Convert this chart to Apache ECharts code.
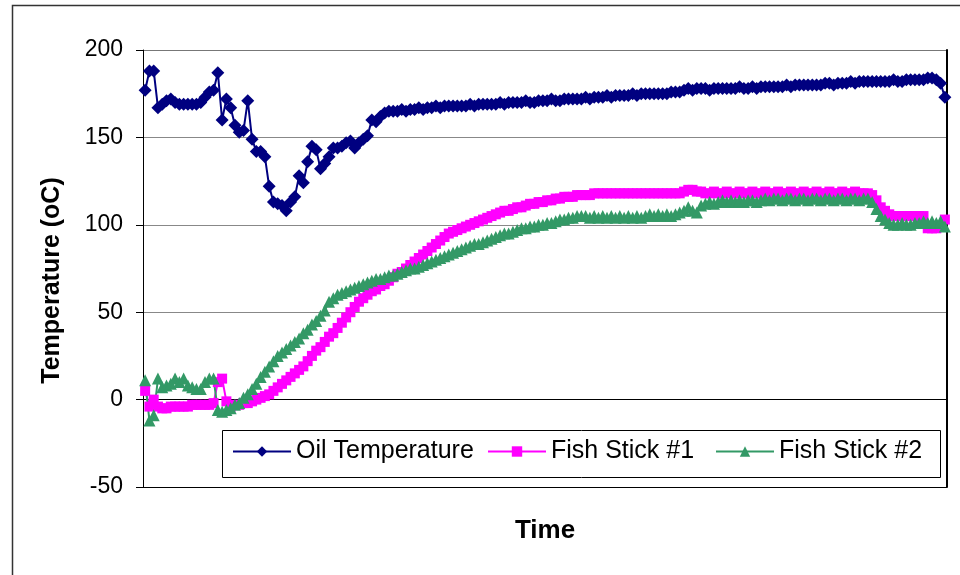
<!DOCTYPE html>
<html>
<head>
<meta charset="utf-8">
<script src="https://cdn.jsdelivr.net/npm/echarts@6/dist/echarts.min.js"></script>
<style>
  html, body { margin: 0; padding: 0; background: #fff; }
  #chart { width: 960px; height: 575px; }
</style>
</head>
<body>
<div id="chart"></div>
<script>
// readings (oC), one per sample
const oilTemp = [
  177, 188, 188, 167, 169, 171, 172, 170, 169, 169, 169, 169, 169, 170, 173, 176, 177, 187, 160, 172,
  167, 157, 153, 154, 171, 149, 142, 142, 139, 122, 113, 112, 111, 108, 113, 116, 128, 124, 136, 145,
  143, 132, 135, 139, 144, 144, 145, 147, 148, 144, 147, 149, 151, 160, 159, 162, 164, 165, 165, 165,
  166, 165, 166, 166, 167, 166, 167, 167, 168, 167, 168, 168, 168, 168, 168, 168, 169, 168, 169, 169,
  169, 169, 169, 170, 169, 170, 170, 170, 170, 171, 170, 170, 171, 171, 171, 172, 171, 171, 172, 172,
  172, 172, 172, 173, 172, 173, 173, 173, 174, 173, 174, 174, 174, 174, 175, 174, 175, 175, 175, 175,
  175, 175, 175, 176, 176, 176, 177, 178, 177, 178, 178, 178, 177, 178, 178, 178, 178, 178, 178, 179,
  178, 178, 179, 178, 179, 179, 179, 179, 179, 179, 180, 179, 180, 180, 180, 180, 180, 180, 180, 181,
  181, 180, 181, 181, 181, 182, 181, 182, 182, 182, 182, 182, 182, 182, 182, 183, 182, 182, 183, 183,
  183, 183, 183, 184, 184, 183, 181, 173
];
const fishStick1 = [
  5, -4, 0, -4, -5, -5, -4, -4, -4, -4, -4, -3, -3, -3, -3, -3, -2, 10, 12, -1,
  -4, -3, -3, -2, -2, -1, 0, 1, 2, 3, 5, 7, 9, 11, 13, 15, 17, 19, 22, 25,
  28, 30, 33, 36, 38, 41, 44, 47, 50, 53, 56, 58, 60, 62, 63, 65, 66, 68, 70, 72,
  73, 75, 77, 79, 81, 83, 85, 87, 89, 91, 93, 95, 96, 97, 98, 99, 100, 101, 102, 103,
  104, 105, 106, 107, 108, 108, 109, 110, 110, 111, 112, 112, 113, 113, 114, 114, 115, 115, 116, 116,
  116, 117, 117, 117, 117, 118, 118, 118, 118, 118, 118, 118, 118, 118, 118, 118, 118, 118, 118, 118,
  118, 118, 118, 118, 118, 118, 119, 120, 120, 119, 119, 118, 118, 119, 118, 118, 119, 118, 118, 119,
  118, 118, 119, 118, 118, 119, 118, 118, 119, 118, 118, 119, 118, 118, 119, 118, 118, 119, 118, 118,
  119, 118, 118, 119, 118, 118, 119, 118, 118, 118, 117, 114, 110, 108, 106, 105, 105, 105, 105, 105,
  105, 105, 105, 98, 98, 98, 99, 103
];
const fishStick2 = [
  11, -12, -9, 12, 7, 8, 9, 12, 10, 12, 8, 7, 6, 6, 10, 12, 12, -6, -7, -6,
  -5, -3, -2, 1, 3, 6, 9, 13, 16, 19, 22, 25, 27, 29, 31, 33, 35, 38, 40, 43,
  45, 48, 51, 56, 58, 60, 61, 62, 63, 64, 65, 66, 67, 68, 69, 69, 70, 71, 71, 72,
  73, 74, 75, 75, 76, 77, 78, 79, 80, 81, 82, 83, 84, 85, 86, 87, 88, 89, 89, 90,
  91, 92, 93, 94, 95, 95, 96, 97, 98, 98, 99, 99, 100, 100, 101, 101, 102, 103, 103, 104,
  104, 105, 105, 105, 104, 105, 104, 105, 104, 105, 104, 105, 104, 105, 104, 105, 104, 105, 106, 105,
  106, 105, 106, 105, 106, 107, 108, 110, 108, 107, 111, 112, 113, 112, 113, 114, 113, 114, 113, 114,
  113, 114, 114, 113, 114, 115, 114, 115, 115, 114, 115, 115, 114, 115, 115, 114, 115, 115, 114, 115,
  115, 114, 115, 115, 114, 115, 115, 114, 115, 115, 113, 109, 105, 103, 101, 100, 100, 101, 100, 100,
  101, 101, 102, 101, 102, 101, 102, 99
];
const samples = oilTemp.map((_, i) => i + 1);
const yTicks = { min: -50, max: 200, step: 50 };
const seriesNames = ['Oil Temperature', 'Fish Stick #1', 'Fish Stick #2'];

const chart = echarts.init(document.getElementById('chart'));
const font = '"Liberation Sans", Arial, sans-serif';

// one legend per entry so each sits where it does in the original box
const legendLeft = [232, 487, 715];
const legends = seriesNames.map((name, i) => ({
  data: [name],
  left: legendLeft[i],
  top: 439,
  z: 10,
  padding: 0,
  itemWidth: 58,
  itemHeight: 13,
  textStyle: { fontSize: 25, color: '#000', fontFamily: font }
}));

const option = {
  animation: false,
  backgroundColor: '#fff',
  textStyle: { fontFamily: font, color: '#000' },
  graphic: [
    {
      type: 'rect',
      left: 10,
      top: 3,
      shape: { width: 1000, height: 620 },
      style: { fill: 'none', stroke: '#333', lineWidth: 1.5 },
      silent: true
    },
    {
      type: 'rect',
      left: 222,
      top: 430,
      z: 3,
      shape: { width: 718, height: 47 },
      style: { fill: '#fff', stroke: '#000', lineWidth: 1 },
      silent: true
    }
  ],
  grid: {
    left: 143,
    right: 13,
    top: 50,
    bottom: 88,
    containLabel: false,
    outerBoundsMode: 'none'
  },
  legend: legends,
  xAxis: [
    {
      type: 'category',
      data: samples,
      boundaryGap: true,
      axisLine: { onZero: true, lineStyle: { color: '#000', width: 1 } },
      axisTick: { show: false },
      axisLabel: { show: false },
      splitLine: { show: false },
      name: 'Time',
      nameLocation: 'middle',
      nameGap: 31,
      nameTextStyle: { fontSize: 26, fontWeight: 'bold', color: '#000', fontFamily: font }
    }
  ],
  yAxis: [
    {
      type: 'value',
      min: yTicks.min,
      max: yTicks.max,
      interval: yTicks.step,
      axisLine: { show: true, lineStyle: { color: '#000', width: 1 } },
      axisTick: { show: true, inside: false, length: 7, lineStyle: { color: '#000' } },
      axisLabel: { fontSize: 23, color: '#000', margin: 20, fontFamily: font },
      splitLine: {
        show: true,
        lineStyle: { color: ['#000', '#000', '#888', '#888', '#888', '#777'], width: 1 }
      },
      name: 'Temperature (oC)',
      nameLocation: 'middle',
      nameGap: 78,
      nameTextStyle: {
        fontSize: 25, fontWeight: 'bold', color: '#000', fontFamily: font,
        padding: [0, 24, 0, 0]
      }
    },
    {
      type: 'value',
      position: 'right',
      min: yTicks.min,
      max: yTicks.max,
      interval: yTicks.step,
      axisLine: { show: true, lineStyle: { color: '#000', width: 2 } },
      axisTick: { show: false },
      axisLabel: { show: false },
      splitLine: { show: false }
    }
  ],
  series: [
    {
      name: 'Oil Temperature',
      type: 'line',
      data: oilTemp,
      symbol: 'diamond',
      symbolSize: 13,
      showAllSymbol: true,
      lineStyle: { color: '#000080', width: 2 },
      itemStyle: { color: '#000080' }
    },
    {
      name: 'Fish Stick #1',
      type: 'line',
      data: fishStick1,
      symbol: 'rect',
      symbolSize: 10,
      showAllSymbol: true,
      lineStyle: { color: '#FF00FF', width: 2 },
      itemStyle: { color: '#FF00FF' }
    },
    {
      name: 'Fish Stick #2',
      type: 'line',
      data: fishStick2,
      symbol: 'triangle',
      symbolSize: 12,
      showAllSymbol: true,
      lineStyle: { color: '#339966', width: 2 },
      itemStyle: { color: '#339966' }
    }
  ]
};

chart.setOption(option);
window.addEventListener('resize', () => chart.resize());
</script>
</body>
</html>
